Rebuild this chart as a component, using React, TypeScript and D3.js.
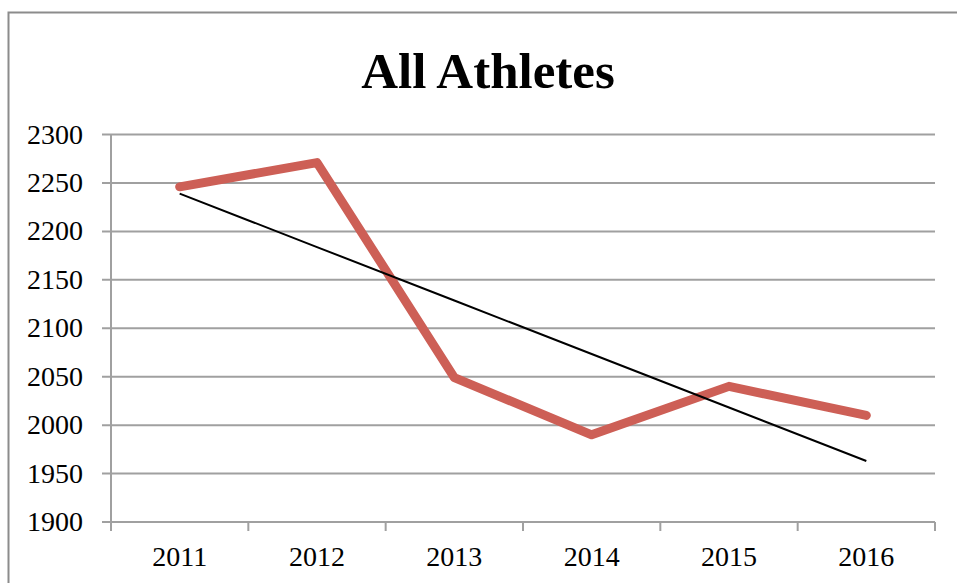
import React from "react";
import * as d3 from "d3";

const years = ["2011", "2012", "2013", "2014", "2015", "2016"];
const values = [2246, 2271, 2049, 1990, 2040, 2010];
const yTicks = [1900, 1950, 2000, 2050, 2100, 2150, 2200, 2250, 2300];
const title = "All Athletes";

const W = 957;
const H = 583;
const left = 111;
const right = 935;
const top = 134.5;
const bottom = 522;

export default function App() {
  const x = d3.scaleBand<string>().domain(years).range([left, right]).padding(0);
  const y = d3.scaleLinear().domain([1900, 2300]).range([bottom, top]);
  const cx = (d: string) => (x(d) as number) + x.bandwidth() / 2;

  const line = d3
    .line<number>()
    .x((_, i) => cx(years[i]))
    .y((v) => y(v));

  // linear regression trendline
  const n = values.length;
  const idx = values.map((_, i) => i);
  const mx = d3.mean(idx) as number;
  const my = d3.mean(values) as number;
  const sxy = d3.sum(idx, (i) => (i - mx) * (values[i] - my));
  const sxx = d3.sum(idx, (i) => (i - mx) * (i - mx));
  const slope = sxy / sxx;
  const trend = idx.map((i) => my + slope * (i - mx));

  const font = "'Liberation Serif', 'DejaVu Serif', serif";
  const boundaries = d3.range(n + 1).map((i) => left + i * x.bandwidth());

  return (
    <svg
      width={W}
      height={H}
      style={{ position: "absolute", left: 0, top: 0, background: "#fff" }}
    >
      <rect x={8.5} y={12.5} width={W + 20} height={H + 20} fill="#fff" stroke="#8c8c8c" strokeWidth={2} />
      <text x={488} y={88} textAnchor="middle" fontFamily={font} fontWeight="bold" fontSize={51} fill="#000">
        {title}
      </text>
      {yTicks.map((t) => (
        <g key={t}>
          <line x1={102} x2={right} y1={y(t)} y2={y(t)} stroke="#a0a0a0" strokeWidth={2} />
          <text x={83} y={y(t) + 9} textAnchor="end" fontFamily={font} fontSize={28} fill="#000">
            {t}
          </text>
        </g>
      ))}
      <line x1={left} x2={left} y1={top} y2={bottom} stroke="#a0a0a0" strokeWidth={2} />
      {boundaries.map((b, i) => (
        <line key={i} x1={b} x2={b} y1={bottom} y2={bottom + 9} stroke="#a0a0a0" strokeWidth={2} />
      ))}
      {years.map((yr) => (
        <text key={yr} x={cx(yr)} y={566} textAnchor="middle" fontFamily={font} fontSize={28} fill="#000">
          {yr}
        </text>
      ))}
      <path d={line(values) || ""} fill="none" stroke="#cd5f56" strokeWidth={9} strokeLinecap="round" strokeLinejoin="round" />
      <path d={line(trend) || ""} fill="none" stroke="#000" strokeWidth={2} />
    </svg>
  );
}
